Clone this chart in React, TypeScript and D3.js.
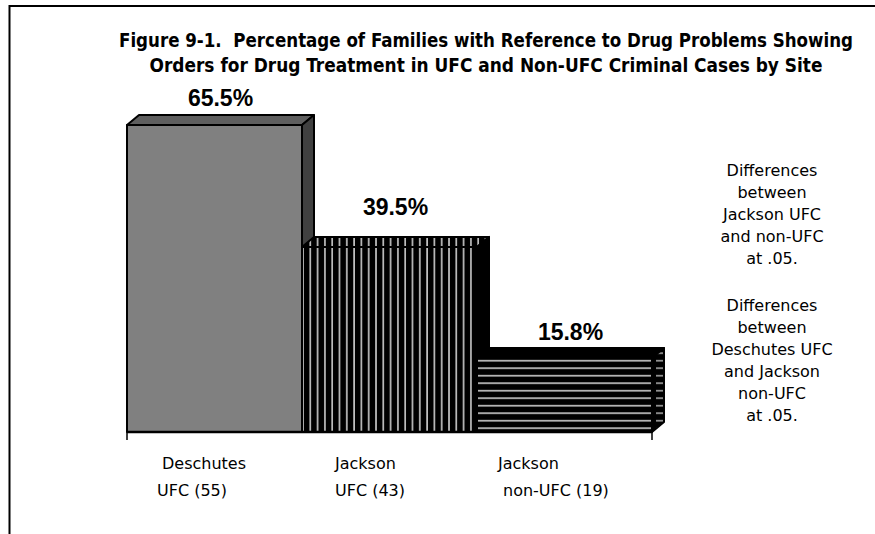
import React from "react";
import * as d3 from "d3";

const categories = ["Deschutes UFC (55)", "Jackson UFC (43)", "Jackson non-UFC (19)"];
const values = [65.5, 39.5, 15.8];
const valueLabels = ["65.5%", "39.5%", "15.8%"];
const catLines = [
  ["Deschutes", "UFC (55)"],
  ["Jackson", "UFC (43)"],
  ["Jackson", "non-UFC (19)"],
];
const titleLines = [
  "Figure 9-1.\u00a0\u00a0Percentage of Families with Reference to Drug Problems Showing",
  "Orders for Drug Treatment in UFC and Non-UFC Criminal Cases by Site",
];
const noteBlocks = [
  ["Differences", "between", "Jackson UFC", "and non-UFC", "at .05."],
  ["Differences", "between", "Deschutes UFC", "and Jackson", "non-UFC", "at .05."],
];

// layout (not data)
const labelGap = [9, 22, 8];
const catLineOffsets = [[35, 30], [33, 33], [21, 26]];

export default function App() {
  const W = 875, H = 534;
  const x0 = 127, x1 = 652, base = 432;
  const dx = 12, dy = -10;
  const x = d3.scaleBand<string>().domain(categories).range([x0, x1]).padding(0);
  const y = d3.scaleLinear().domain([0, 70]).range([base, 104]);
  const bw = x.bandwidth();

  const frontFill = ["#808080", "url(#vstripe)", "url(#hstripe)"];
  const topFill = ["#5f5f5f", "url(#vstripe)", "#000"];
  const sideFill = ["#404040", "#000", "url(#hstripeS)"];

  return (
    <svg width={W} height={H} style={{ position: "absolute", left: 0, top: 0 }}>
      <defs>
        <pattern id="vstripe" patternUnits="userSpaceOnUse" width={7.3} height={10}>
          <rect width={7.3} height={10} fill="#000" />
          <rect x={3} width={1.4} height={10} fill="#e8e8e8" />
        </pattern>
        <pattern id="hstripe" patternUnits="userSpaceOnUse" width={10} height={7.5} y={base}>
          <rect width={10} height={7.5} fill="#000" />
          <rect y={3} width={10} height={1.4} fill="#e8e8e8" />
        </pattern>
        <pattern id="hstripeS" patternUnits="userSpaceOnUse" width={12} height={7.5} x={x1 + 2} y={base}>
          <rect width={12} height={7.5} fill="#000" />
          <rect x={2} y={3} width={7} height={1.4} fill="#bbb" />
        </pattern>
      </defs>
      <rect x={0} y={0} width={W} height={H} fill="#fff" />
      <path d={`M9.5,${H + 5} L9.5,6 L${W + 5},6`} fill="none" stroke="#000" strokeWidth={2} />

      {titleLines.map((t, i) => (
        <text
          key={i}
          x={486}
          y={47 + i * 25}
          textAnchor="middle"
          fontFamily="'Liberation Sans Narrow', 'DejaVu Sans Condensed', 'Liberation Sans', sans-serif"
          fontWeight="bold"
          fontSize={19}
          textLength={i === 0 ? 734 : 673}
          lengthAdjust="spacingAndGlyphs"
        >
          {t}
        </text>
      ))}

      {categories.map((c, i) => {
        const xl = x(c)!;
        const xr = xl + bw;
        const yt = y(values[i]);
        return (
          <g key={c} stroke="#000" strokeWidth={2} strokeLinejoin="round">
            <path
              d={`M${xl},${yt} L${xl + dx},${yt + dy} L${xr + dx},${yt + dy} L${xr},${yt} Z`}
              fill={topFill[i]}
            />
            <path
              d={`M${xr},${yt} L${xr + dx},${yt + dy} L${xr + dx},${base + dy} L${xr},${base} Z`}
              fill={sideFill[i]}
            />
            <rect x={xl} y={yt} width={bw} height={base - yt} fill={frontFill[i]} />
          </g>
        );
      })}

      <line x1={x0} x2={x1} y1={base} y2={base} stroke="#000" strokeWidth={2.5} />
      <line x1={x0} x2={x0} y1={base} y2={440} stroke="#000" strokeWidth={1.5} />
      <line x1={x1} x2={x1} y1={base} y2={440} stroke="#000" strokeWidth={1.5} />

      {categories.map((c, i) => (
        <text
          key={"v" + c}
          x={x(c)! + bw / 2 + dx / 2}
          y={y(values[i]) + dy - labelGap[i]}
          textAnchor="middle"
          fontFamily="'Liberation Sans', Arial, sans-serif"
          fontWeight="bold"
          fontSize={23}
        >
          {valueLabels[i]}
        </text>
      ))}

      {categories.map((c, i) =>
        catLines[i].map((ln, j) => (
          <text
            key={c + j}
            x={x(c)! + catLineOffsets[i][j]}
            y={469 + j * 27}
            fontFamily="'DejaVu Sans', sans-serif"
            fontSize={16}
          >
            {ln}
          </text>
        ))
      )}

      {noteBlocks.map((blk, b) =>
        blk.map((ln, j) => (
          <text
            key={b + "-" + j}
            x={772}
            y={(b === 0 ? 176 : 311) + j * 22}
            textAnchor="middle"
            fontFamily="'DejaVu Sans', sans-serif"
            fontSize={16}
          >
            {ln}
          </text>
        ))
      )}
    </svg>
  );
}
